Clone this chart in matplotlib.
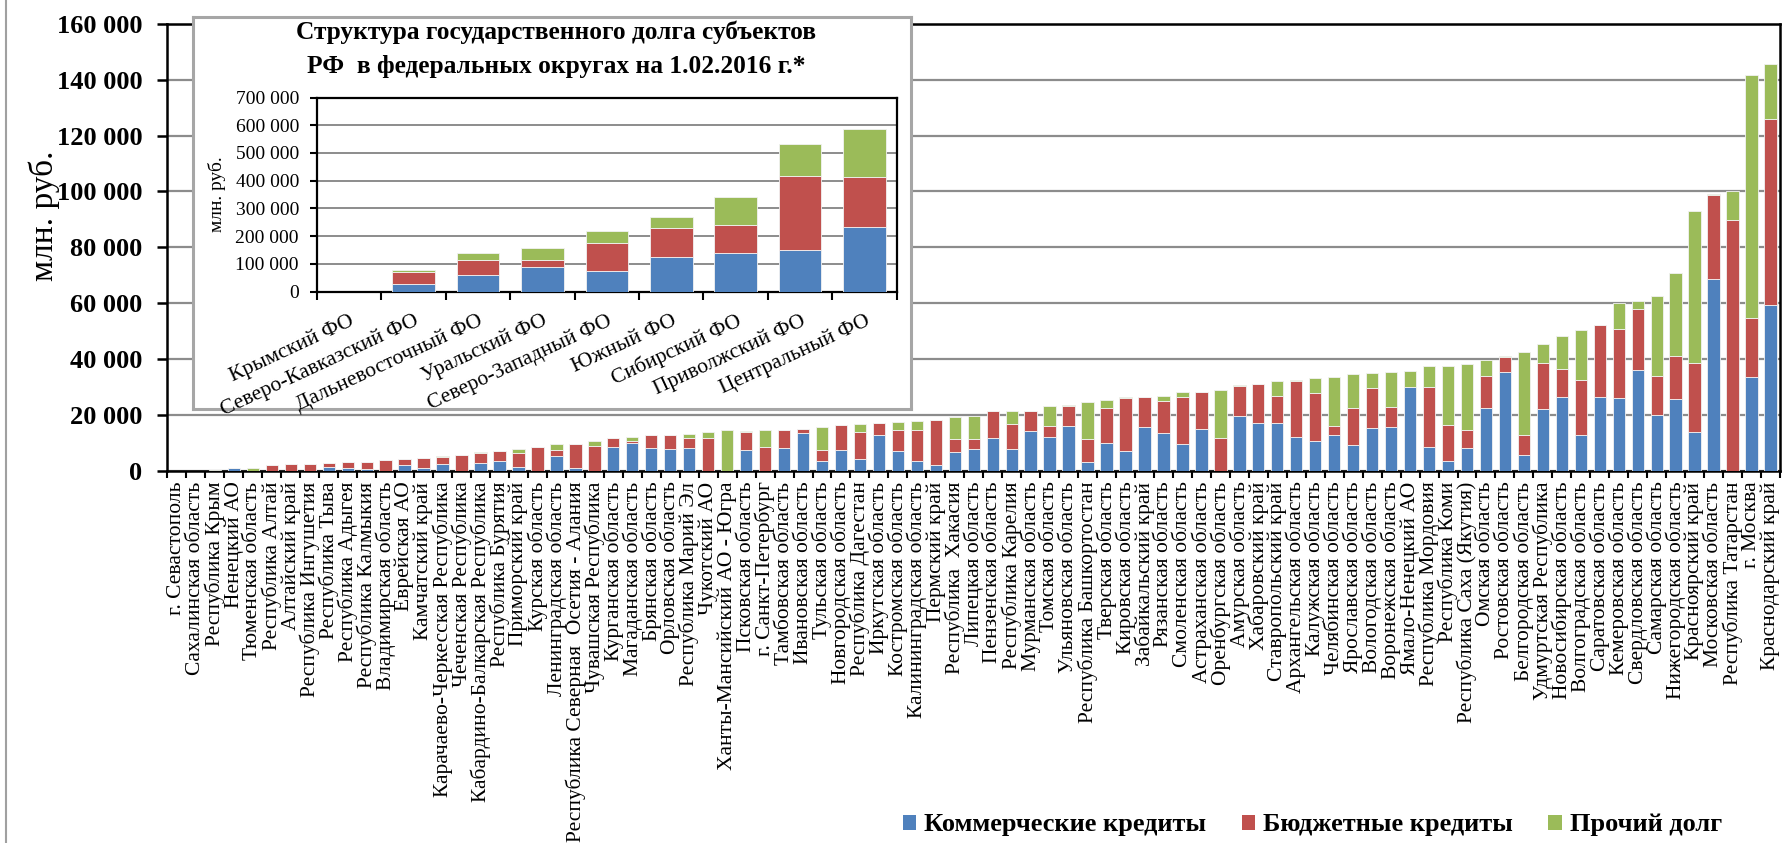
import numpy as np
import matplotlib
matplotlib.use('Agg')
import matplotlib.pyplot as plt
from matplotlib.patches import Patch
from matplotlib.lines import Line2D
from matplotlib.ticker import FuncFormatter

plt.rcParams['font.family'] = ['Liberation Serif', 'DejaVu Serif']

# --- data: state debt of RF regions, mln rub., 1.02.2016 --- #
regions = [
    'г. Севастополь', 'Сахалинская область', 'Республика Крым', 'Ненецкий АО',
    'Тюменская область', 'Республика Алтай', 'Алтайский край', 'Республика Ингушетия',
    'Республика Тыва', 'Республика Адыгея', 'Республика Калмыкия', 'Владимирская область',
    'Еврейская АО', 'Камчатский край', 'Карачаево-Черкесская Республика',
    'Чеченская Республика', 'Кабардино-Балкарская Республика', 'Республика Бурятия',
    'Приморский край', 'Курская область', 'Ленинградская область',
    'Республика Северная  Осетия - Алания', 'Чувашская Республика', 'Курганская область',
    'Магаданская область', 'Брянская область', 'Орловская область', 'Республика Марий Эл',
    'Чукотский АО', 'Ханты-Мансийский АО - Югра', 'Псковская область', 'г. Санкт-Петербург',
    'Тамбовская область', 'Ивановская область', 'Тульская область', 'Новгородская область',
    'Республика Дагестан', 'Иркутская область', 'Костромская область',
    'Калининградская область', 'Пермский край', 'Республика  Хакасия', 'Липецкая область',
    'Пензенская область', 'Республика Карелия', 'Мурманская область', 'Томская область',
    'Ульяновская область', 'Республика Башкортостан', 'Тверская область', 'Кировская область',
    'Забайкальский край', 'Рязанская область', 'Смоленская область', 'Астраханская область',
    'Оренбургская область', 'Амурская область', 'Хабаровский край', 'Ставропольский край',
    'Архангельская область', 'Калужская область', 'Челябинская область',
    'Ярославская область', 'Вологодская область', 'Воронежская область', 'Ямало-Ненецкий АО',
    'Республика Мордовия', 'Республика Коми', 'Республика Саха (Якутия)', 'Омская область',
    'Ростовская область', 'Белгородская область', 'Удмуртская Республика',
    'Новосибирская область', 'Волгоградская область', 'Саратовская область',
    'Кемеровская область', 'Свердловская область', 'Самарская область',
    'Нижегородская область', 'Красноярский край', 'Московская область',
    'Республика Татарстан', 'г. Москва', 'Краснодарский край',
]

commercial = [
    0, 0, 0, 800, 0, 0, 0, 0, 1100, 1000, 700, 0, 2100, 1000, 2300, 0, 2700, 3500,
    1250, 0, 5200, 800, 0, 8500, 9700, 8200, 7600, 8200, 0, 0, 7300, 0, 8200, 13300,
    3400, 7300, 4100, 12600, 7100, 3300, 1900, 6800, 7800, 11600, 7600, 14100, 12000,
    15800, 2900, 9800, 7000, 15600, 13400, 9400, 14800, 0, 19700, 17000, 17200, 12100,
    10700, 12900, 9200, 15100, 15600, 29800, 8600, 3300, 8200, 22500, 35300, 5700,
    22000, 26300, 12800, 26300, 26000, 36100, 20000, 25700, 13700, 68500, 0, 33500, 59400,
]
budget = [
    0, 0, 0, 0, 0, 1800, 2300, 2500, 1650, 2100, 2500, 3600, 2000, 3400, 2700, 5400,
    3500, 3400, 5150, 8300, 2300, 8800, 8900, 3000, 1000, 4400, 5200, 3400, 11800, 0,
    6400, 8500, 6400, 1600, 4100, 8900, 9800, 4300, 7500, 11200, 16300, 4600, 3500,
    9600, 8900, 7200, 3800, 7200, 8300, 12600, 18900, 10700, 11400, 16800, 13500, 11800,
    10500, 13900, 9600, 19900, 17100, 2900, 13300, 14600, 7100, 0, 21200, 12900, 6400,
    11200, 5300, 7200, 16400, 10000, 19700, 25700, 24700, 21700, 13800, 15500, 24900,
    30100, 89600, 21300, 66500,
]
other = [
    0, 0, 200, 0, 800, 0, 0, 0, 0, 0, 0, 0, 0, 0, 200, 300, 300, 0, 1200, 0, 2000, 0,
    1600, 0, 1300, 0, 0, 1400, 2000, 14400, 600, 6000, 0, 0, 8200, 0, 2600, 0, 2900,
    3200, 0, 7800, 8400, 0, 4700, 200, 7300, 500, 13300, 3000, 300, 0, 2000, 2100, 0,
    17200, 300, 0, 5300, 500, 5500, 17800, 12100, 5300, 12600, 6000, 7500, 21400, 23400,
    6000, 600, 29400, 6800, 12000, 17900, 0, 9500, 2900, 28900, 29700, 54400, 500,
    10500, 87000, 19700,
]

districts = ['Крымский ФО', 'Северо-Кавказский ФО', 'Дальневосточный ФО', 'Уральский ФО',
             'Северо-Западный ФО', 'Южный ФО', 'Сибирский ФО', 'Приволжский ФО',
             'Центральный ФО']
d_commercial = [0, 28000, 60000, 88000, 76000, 124000, 139000, 149000, 233000]
d_budget = [0, 42000, 53000, 27000, 101000, 107000, 103000, 269000, 181000]
d_other = [200, 10000, 27000, 41000, 43000, 40000, 98000, 116000, 174000]

series_names = ['Коммерческие кредиты', 'Бюджетные кредиты', 'Прочий долг']
colors = ['#4F81BD', '#C0504D', '#9BBB59']

W, H = 1783.0, 843.0
fig = plt.figure(figsize=(W / 100, H / 100), dpi=100)


def thousands(v, pos=None):
    return '{:,}'.format(int(v)).replace(',', ' ')


def stacked(ax, values, width):
    x = np.arange(len(values[0]))
    bottom = np.zeros(len(x))
    for vals, c in zip(values, colors):
        vals = np.array(vals, dtype=float)
        ax.bar(x, vals, width, bottom=bottom, color=c, edgecolor='#f2f2f2',
               linewidth=0.6, zorder=3)
        bottom += vals
    return x


# --- main chart --- #
ax = fig.add_axes([167.5 / W, 1 - 470.5 / H, 1612.5 / W, 446.5 / H])
x = stacked(ax, [commercial, budget, other], 0.65)

ax.set_xlim(-0.5, len(regions) - 0.5)
ax.set_ylim(0, 160000)
ax.set_yticks(np.arange(0, 160001, 20000))
ax.yaxis.set_major_formatter(FuncFormatter(thousands))
ax.set_xticks(x)
ax.set_xticklabels(regions, rotation=90, fontsize=15.5, va='top', ha='center')
ax.set_xticks(np.arange(-0.5, len(regions)), minor=True)
ax.tick_params(axis='x', which='major', length=0, pad=8)
ax.tick_params(axis='x', which='minor', length=5, width=1.5, direction='out')
ax.tick_params(axis='y', length=7, width=1.8, direction='out', pad=11)
for label in ax.get_yticklabels():
    label.set_fontsize(19)
    label.set_fontweight('bold')

ax.yaxis.grid(True, color='#8c8c8c', linewidth=1.6, zorder=0)
ax.set_axisbelow(True)
for s in ax.spines.values():
    s.set_linewidth(1.8)
    s.set_color('black')

ax.set_ylabel('млн. руб.', fontsize=24)
ax.yaxis.set_label_coords((60 - 167.5) / 1612.5, (470.5 - 216) / 446.5)

# --- inset: federal districts --- #
frame = fig.add_axes([193 / W, 1 - 409 / H, (911 - 193) / W, (409 - 17) / H])
frame.set_xticks([])
frame.set_yticks([])
for s in frame.spines.values():
    s.set_color('#a6a6a6')
    s.set_linewidth(2.2)

fig.text(556 / W, 1 - 32 / H, 'Структура государственного долга субъектов',
         ha='center', va='center', fontsize=18.3, fontweight='bold')
fig.text(556 / W, 1 - 66 / H, 'РФ  в федеральных округах на 1.02.2016 г.*',
         ha='center', va='center', fontsize=18.3, fontweight='bold')

ax_in = fig.add_axes([317 / W, 1 - 291.7 / H, (896.7 - 317) / W, (291.7 - 97.5) / H])
xi = stacked(ax_in, [d_commercial, d_budget, d_other], 0.66)
ax_in.set_xlim(-0.5, len(districts) - 0.5)
ax_in.set_ylim(0, 700000)
ax_in.set_yticks(np.arange(0, 700001, 100000))
ax_in.yaxis.set_major_formatter(FuncFormatter(thousands))
ax_in.set_xticks(xi)
ax_in.set_xticklabels(districts, fontsize=15.5)
plt.setp(ax_in.get_xticklabels(), rotation=25, ha='right', va='top',
         rotation_mode='anchor')
ax_in.set_xticks(np.arange(-0.5, len(districts)), minor=True)
ax_in.tick_params(axis='x', which='major', length=0, pad=14)
ax_in.tick_params(axis='x', which='minor', length=6, width=1.5, direction='out')
ax_in.tick_params(axis='y', length=5, width=1.5, direction='out', pad=8, labelsize=14)
ax_in.yaxis.grid(True, color='#8c8c8c', linewidth=1.4, zorder=0)
ax_in.set_axisbelow(True)
for s in ax_in.spines.values():
    s.set_linewidth(1.6)
    s.set_color('black')
ax_in.set_ylabel('млн. руб.', fontsize=14)
ax_in.yaxis.set_label_coords((226 - 317) / (896.7 - 317), 0.5)

# --- legend --- #
handles = [Patch(facecolor=c, edgecolor='none') for c in colors]
fig.legend(handles, series_names, loc='center left',
           bbox_to_anchor=(903 / W, 1 - 825 / H), ncol=3, frameon=False,
           prop={'weight': 'bold', 'size': 19}, handlelength=0.5, handleheight=0.5,
           handletextpad=0.3, columnspacing=1.35, borderpad=0, borderaxespad=0)

# left border of the chart area
fig.add_artist(Line2D([6 / W, 6 / W], [0, 1], color='#a0a0a0', linewidth=1.5))

fig.savefig('out.png', dpi=100, facecolor='white')
